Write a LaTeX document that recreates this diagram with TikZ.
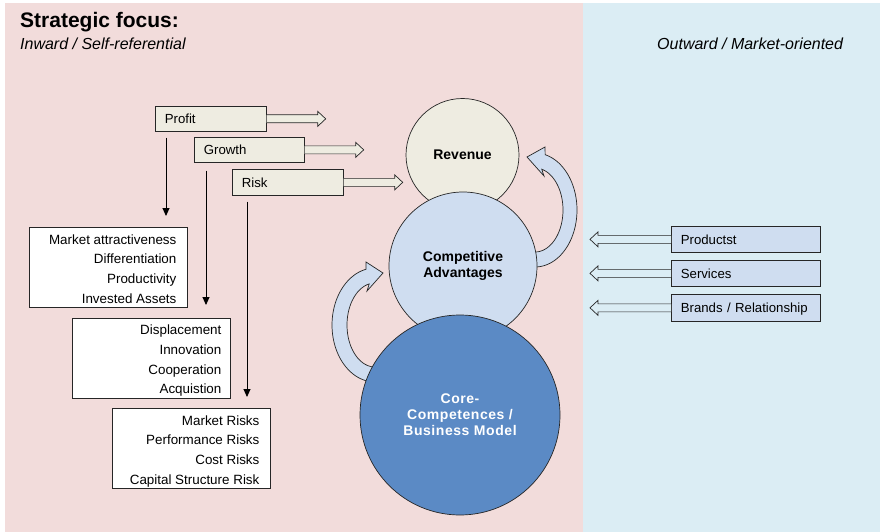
\documentclass[tikz,border=0pt]{standalone}
\usepackage{fontspec}
\setmainfont{Liberation Sans}
\usetikzlibrary{arrows.meta,calc}

\definecolor{pinkbg}{HTML}{F2DCDB}
\definecolor{bluebg}{HTML}{DBEDF4}
\definecolor{beige}{HTML}{EEECE1}
\definecolor{paleblue}{HTML}{CFDDF0}
\definecolor{coreblue}{HTML}{5B8AC5}
\definecolor{edge}{HTML}{262626}

% Block arrow with a hollow head: #1 fill, #2 start, #3 tip, #4 signed head length
\newcommand\hollowarrow[4]{%
  \draw[line width=0.7pt, draw=edge, fill=#1]
    let \p1=(#2), \p2=(#3) in
    (\x1,\y2+4pt) -- ({\x2-(#4)},\y2+4pt) -- ({\x2-(#4)},\y2+7.5pt) -- (\x2,\y2)
    -- ({\x2-(#4)},\y2-7.5pt) -- ({\x2-(#4)},\y2-4pt) -- (\x1,\y2-4pt);}

\begin{document}
\begin{tikzpicture}[x=1pt, y=-1pt,
  tagbox/.style={draw=edge, line width=0.7pt, fill=#1, anchor=north west,
    inner xsep=9.5pt, inner ysep=0pt, text height=9.3pt, text depth=0pt,
    align=left, font=\fontsize{13.2}{15}\selectfont},
  listbox/.style={draw=edge, line width=0.6pt, fill=white, anchor=north west,
    inner sep=0pt, minimum width=158pt, minimum height=80pt},
  listtext/.style={anchor=base east, inner sep=0pt, font=\fontsize{13.4}{15}\selectfont},
  disc/.style={circle, draw=edge, line width=0.7pt, inner sep=0pt, align=center,
    font=\bfseries\fontsize{14}{16.5}\selectfont},
  flow/.style={draw=black, line width=0.9pt, -{Triangle[length=8pt,width=7pt]}},
  bentarrow/.style={draw=edge, line width=0.7pt, fill=paleblue},
  plain/.style={inner sep=0pt, anchor=base west}]

\useasboundingbox (0,0) rectangle (880,532);
\fill[white] (0,0) rectangle (880,532);
\fill[pinkbg] (5,3) rectangle (583,532);
\fill[bluebg] (583,3) rectangle (880,532);

% headings
\node[plain, font=\bfseries\fontsize{21}{25}\selectfont] (title) at (20,28) {Strategic focus:};
\node[plain, font=\itshape\fontsize{16}{19}\selectfont] (inward) at (20,50) {Inward / Self-referential};
\node[plain, font=\itshape\fontsize{16}{19}\selectfont] (outward) at (657,50) {Outward / Market-oriented};

% inward drivers
\node[tagbox=beige, text width=92pt, minimum height=25pt] (profit) at (155,106) {Profit};
\node[tagbox=beige, text width=91pt, minimum height=25pt] (growth) at (194,137) {Growth};
\node[tagbox=beige, text width=92pt, minimum height=26pt] (risk) at (232,169) {Risk};

\hollowarrow{beige}{profit.east}{$(profit.east)+(59,0)$}{8pt}
\hollowarrow{beige}{growth.east}{$(growth.east)+(59,0)$}{8pt}
\hollowarrow{beige}{risk.east}{$(risk.east)+(59,0)$}{8pt}

% outward drivers
\node[tagbox=paleblue, text width=130pt, minimum height=26pt] (products) at (671,226) {Productst};
\node[tagbox=paleblue, text width=130pt, minimum height=26pt] (services) at (671,260) {Services};
\node[tagbox=paleblue, text width=130pt, minimum height=27pt] (brands) at (671,294) {Brands / Relationship};

\hollowarrow{bluebg}{products.west}{$(products.west)+(-81,0)$}{-8pt}
\hollowarrow{bluebg}{services.west}{$(services.west)+(-81,0)$}{-8pt}
\hollowarrow{bluebg}{brands.west}{$(brands.west)+(-81,0)$}{-8pt}

% lists of levers
\node[listbox] (list1) at (29,227) {};
\node[listbox] (list2) at (72,318) {};
\node[listbox] (list3) at (112,408) {};

\foreach \t [count=\i] in {Market attractiveness, Differentiation, Productivity, Invested Assets}
  \node[listtext] (la\i) at ($(list1.north east)+(-11,{17+19.7*(\i-1)})$) {\t};
\foreach \t [count=\i] in {Displacement, Innovation, Cooperation, Acquistion}
  \node[listtext] (lb\i) at ($(list2.north east)+(-9,{16.6+19.7*(\i-1)})$) {\t};
\foreach \t [count=\i] in {Market Risks, Performance Risks, Cost Risks, Capital Structure Risk}
  \node[listtext] (lc\i) at ($(list3.north east)+(-11,{17+19.7*(\i-1)})$) {\t};

\coordinate (pdrop) at ($(profit.south west)+(11,6)$);
\coordinate (gdrop) at ($(growth.south west)+(12,8)$);
\coordinate (rdrop) at ($(risk.south west)+(15,6)$);
\draw[flow, shorten >=11pt] (pdrop) -- (pdrop |- list1.north);
\draw[flow, shorten >=13pt] (gdrop) -- (gdrop |- list2.north);
\draw[flow, shorten >=11pt] (rdrop) -- (rdrop |- list3.north);

% curved feedback arrows
\filldraw[bentarrow]
  plot[domain=92:-76, samples=60] ({535+42*cos(\x)},{210+57*sin(\x)})
  -- (545,147) -- (527,157) -- (544,176)
  -- plot[domain=-76:92, samples=60] ({535+28*cos(\x)},{210+42*sin(\x)}) -- cycle;
\filldraw[bentarrow]
  plot[domain=80:258, samples=60] ({375+43*cos(\x)},{325+57*sin(\x)})
  -- (366,262) -- (383,273) -- (367,291)
  -- plot[domain=258:80, samples=60] ({375+28*cos(\x)},{325+42*sin(\x)}) -- cycle;

% stacked circles
\node[disc, fill=beige, minimum size=113pt] (revenue) at (462.5,155) {Revenue};
\node[disc, fill=paleblue, minimum size=148pt] (compadv) at (463,266) {Competitive\\Advantages};
\node[disc, fill=coreblue, text=white, minimum size=200pt,
  font=\bfseries\fontsize{14}{16}\selectfont\addfontfeature{LetterSpace=4}] (core) at (460,415)
  {Core-\\Competences /\\Business Model};
\end{tikzpicture}
\end{document}
